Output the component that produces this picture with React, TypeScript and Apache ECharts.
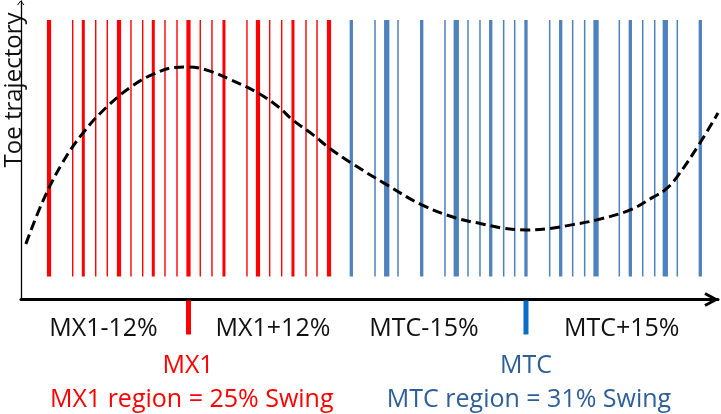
import React, { useEffect, useRef } from "react";
import * as echarts from "echarts";

// Stimulus instants across the swing (% of swing); weight: 1 thin, 2 medium, 3 heavy
const RED_POS = [4.02, 7.42, 8.94, 10.72, 12.38, 14.06, 15.78, 17.46, 18.98, 20.66, 22.38, 24.03,
  25.72, 27.4, 29.12, 32.42, 34.0, 35.68, 37.4, 39.02, 40.89, 42.47, 44.19];
const RED_WEIGHT = [3, 1, 2, 1, 1, 3, 1, 1, 2, 1, 1, 3, 1, 1, 2, 1, 3, 1, 1, 2, 1, 1, 3];
const BLUE_POS = [47.39, 50.79, 52.47, 54.09, 57.49, 60.83, 62.45, 64.13, 65.85, 67.39, 69.25, 70.83,
  72.45, 75.85, 77.43, 79.15, 80.87, 82.5, 85.84, 87.42, 89.2, 90.92, 92.44, 94.16, 97.46];
const BLUE_WEIGHT = [2, 1, 3, 1, 2, 1, 3, 1, 1, 2, 1, 1, 2, 1, 2, 1, 1, 3, 1, 2, 1, 1, 3, 1, 2];

// Toe trajectory over the swing
const CURVE_X = [0.7, 3.2, 6.0, 8.9, 12.3, 16.0, 19.0, 22.0, 24.1, 27.0, 30.0, 34.0, 37.0, 39.0, 42.0,
  44.2, 47.4, 52.5, 57.5, 62.4, 66.0, 69.2, 72.5, 75.9, 79.0, 82.5, 87.4, 90.7, 92.4, 94.1, 97.4, 100];
const CURVE_Y = [18.6, 33.3, 46.0, 55.8, 64.5, 71.6, 75.5, 77.7, 77.9, 76.6, 73.7, 69.2, 64.4, 60.1, 55.0,
  50.8, 45.7, 38.4, 31.7, 27.3, 25.4, 23.9, 23.3, 23.8, 25.0, 26.6, 30.0, 34.3, 36.7, 41.0, 52.4, 62.5];

// Gait events on the swing axis
const EVENT_NAMES = ["MX1", "MTC"];
const EVENT_POS = [24.03, 72.45];
const WINDOW_LABELS = [["MX1-12%", "MX1+12%"], ["MTC-15%", "MTC+15%"]];
const REGION_LABELS = ["MX1 region = 25% Swing", "MTC region = 31% Swing"];

const LINE_BOTTOM = 7.7;
const LINE_TOP = 93.6;

const RED = "#ff0000";
const BLUE = "#4f81bd";
const RED_WIDTHS = [0, 1.4, 3.0, 4.2];
const BLUE_WIDTHS = [0, 1.5, 3.3, 5.3];
const FONT = "'Open Sans', sans-serif";

function stripes(pos: number[], weight: number[], color: string, widths: number[]) {
  return {
    type: "custom",
    silent: true,
    data: pos.map((x, i) => [x, weight[i]]),
    renderItem: (_params: any, api: any) => {
      const x = api.value(0);
      const w = widths[api.value(1)];
      const top = api.coord([x, LINE_TOP]);
      const bot = api.coord([x, LINE_BOTTOM]);
      return {
        type: "rect",
        shape: { x: top[0] - w / 2, y: top[1], width: w, height: bot[1] - top[1] },
        style: { fill: color },
      };
    },
  };
}

export default function App() {
  const ref = useRef<HTMLDivElement>(null);

  useEffect(() => {
    if (!ref.current) return;
    const chart = echarts.init(ref.current, null, { renderer: "svg" });
    const eventColors = [RED, "#0a6ec4"];
    const labelColors = [RED, "#2e6097"];

    const txt = (text: string, x: number, y: number, fill: string) => ({
      type: "text",
      x,
      y,
      style: { text, fill, font: `25px ${FONT}`, align: "center", verticalAlign: "middle" },
    });

    chart.setOption({
      animation: false,
      grid: { left: 21, right: 3, top: 1, bottom: 114.5 },
      xAxis: {
        type: "value",
        min: 0,
        max: 100,
        axisLine: { lineStyle: { color: "#000", width: 3 } },
        axisTick: { show: false },
        axisLabel: { show: false },
        splitLine: { show: false },
      },
      yAxis: {
        type: "value",
        min: 0,
        max: 100,
        axisLine: { show: true, lineStyle: { color: "#000", width: 1.3 } },
        axisTick: { show: false },
        axisLabel: { show: false },
        splitLine: { show: false },
      },
      series: [
        stripes(RED_POS, RED_WEIGHT, RED, RED_WIDTHS),
        stripes(BLUE_POS, BLUE_WEIGHT, BLUE, BLUE_WIDTHS),
        {
          type: "line",
          data: CURVE_X.map((x, i) => [x, CURVE_Y[i]]),
          smooth: 0.4,
          symbol: "none",
          clip: false,
          lineStyle: { color: "#000", width: 3, type: [10, 5] },
        },
        {
          type: "custom",
          silent: true,
          clip: false,
          data: EVENT_POS.map((x, i) => [x, i]),
          renderItem: (_params: any, api: any) => {
            const p = api.coord([api.value(0), 0]);
            return {
              type: "rect",
              shape: { x: p[0] - 2.5, y: p[1] + 1, width: 5, height: 34 },
              style: { fill: eventColors[api.value(1)] },
            };
          },
        },
      ],
      graphic: [
        {
          type: "text",
          x: 11.5,
          y: 90,
          rotation: Math.PI / 2,
          style: { text: "Toe trajectory", fill: "#111", font: `24px ${FONT}`, align: "center", verticalAlign: "middle" },
        },
        txt(WINDOW_LABELS[0][0], 103.5, 325.5, "#111"),
        txt(WINDOW_LABELS[0][1], 273, 325.5, "#111"),
        txt(WINDOW_LABELS[1][0], 424, 325.5, "#111"),
        txt(WINDOW_LABELS[1][1], 621.7, 325.5, "#111"),
        txt(EVENT_NAMES[0], 188, 363, labelColors[0]),
        txt(EVENT_NAMES[1], 526, 363, labelColors[1]),
        txt(REGION_LABELS[0], 191.7, 396.5, labelColors[0]),
        txt(REGION_LABELS[1], 529, 396.5, labelColors[1]),
        {
          type: "polyline",
          shape: { points: [[17.5, 5], [20.7, 1], [24, 5]] },
          style: { stroke: "#000", lineWidth: 1, fill: "none" },
        },
        {
          type: "polyline",
          shape: { points: [[705, 293.5], [716, 299.5], [705, 305.5]] },
          style: { stroke: "#000", lineWidth: 3, fill: "none" },
        },
      ],
    });
    return () => chart.dispose();
  }, []);

  return <div ref={ref} style={{ position: "fixed", left: 0, top: 0, width: 721, height: 414 }} />;
}
